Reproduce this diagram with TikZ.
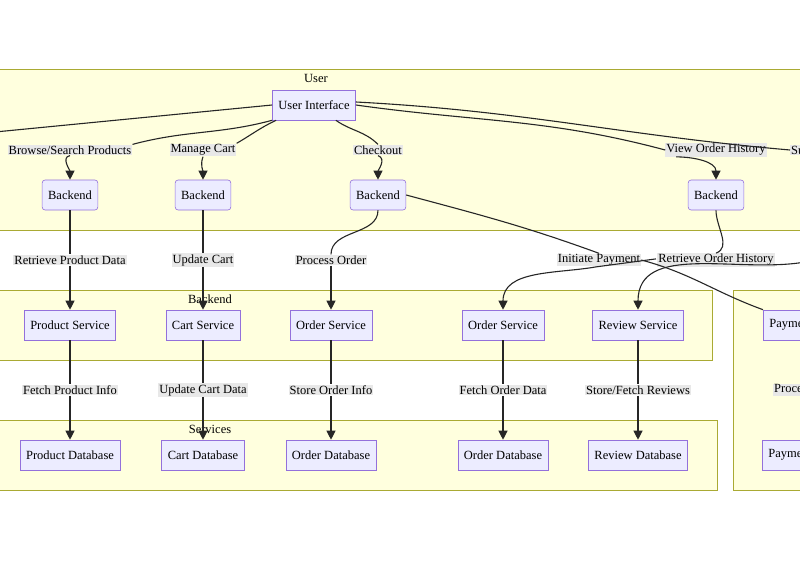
\documentclass[tikz,border=0pt]{standalone}
\usepackage{fontspec}
\setmainfont{Liberation Serif}
\usetikzlibrary{arrows.meta,positioning}
\definecolor{clfill}{HTML}{FFFFDE}
\definecolor{cldraw}{HTML}{AAAA33}
\definecolor{ndfill}{HTML}{ECECFF}
\definecolor{nddraw}{HTML}{9370DB}
\definecolor{lbfill}{HTML}{E8E8E8}
\tikzset{
  txt/.style={font=\fontsize{12.5}{14}\selectfont},
  box/.style={txt,draw=nddraw,fill=ndfill,line width=0.6pt,minimum height=30pt,inner xsep=6pt},
  rbox/.style={box,rounded corners=3pt},
  lbl/.style={txt,fill=lbfill,inner sep=1pt},
  clust/.style={draw=cldraw,fill=clfill,line width=0.6pt},
  edge/.style={line width=1.1pt,draw=black!85,-{Triangle[length=9pt,width=9pt]}},
  plain/.style={line width=1.1pt,draw=black!85}
}
\begin{document}
\begin{tikzpicture}[x=1pt,y=-1pt]
  \useasboundingbox (0,0) rectangle (800,575);
  \begin{scope}
    \clip (0,0) rectangle (800,575);
    % clusters
    \draw[clust] (-5,69) rectangle (805,230);
    \draw[clust] (-5,290) rectangle (712,360);
    \draw[clust] (-5,420) rectangle (717,490);
    \draw[clust] (733,290) rectangle (805,490);
    \node[txt] at (316,78) {User};
    \node[txt] at (210,299) {Backend};
    \node[txt] at (210,429) {Services};
    % nodes
    \node[box] (ui) at (314,105) {User Interface};
    \node[rbox] (be1) at (70,195) {Backend};
    \node[rbox] (be2) at (203,195) {Backend};
    \node[rbox] (be3) at (378,195) {Backend};
    \node[rbox] (be4) at (716,195) {Backend};
    \node[box] (ps) at (70,325) {Product Service};
    \node[box] (cs) at (203,325) {Cart Service};
    \node[box] (os1) at (331,325) {Order Service};
    \node[box] (os2) at (503,325) {Order Service};
    \node[box] (rs) at (638,325) {Review Service};
    \node[box,anchor=west] (pay) at (763,325) {Payment Service};
    \node[box] (pdb) at (70,455) {Product Database};
    \node[box] (cdb) at (203,455) {Cart Database};
    \node[box] (odb1) at (331,455) {Order Database};
    \node[box] (odb2) at (503,455) {Order Database};
    \node[box] (rdb) at (638,455) {Review Database};
    \node[box,anchor=west] (paydb) at (762,455) {Payment Database};
    \coordinate (offl) at (-5,132);
    \coordinate (offr2) at (805,262);
    % edges from the user interface
    \draw[plain] (ui.west) -- (offl);
    \node[lbl] (l1) at (70,150) {Browse/Search Products};
    \node[lbl] (l2) at (203,150) {Manage Cart};
    \node[lbl] (l3) at (378,150) {Checkout};
    \node[lbl] (l4) at (716,150) {View Order History};
    \node[lbl,anchor=west] (l5) at (790,150) {Submit Review};
    \draw[plain] (ui.south west) to[out=195,in=15] (l1.north east);
    \draw[edge] (l1.south) to[out=-170,in=90] (be1.north);
    \draw[plain] (ui.south west) ++(4,0) to[out=205,in=30] (l2.north east);
    \draw[edge] (l2.south) to[out=-110,in=90] (be2.north);
    \draw[plain] (ui.south east) ++(-20,0) to[out=-35,in=135] (l3.north);
    \draw[edge] (l3.south) to[out=-20,in=90] (be3.north);
    \draw[plain] (ui.east) to[out=-8,in=165] (l4.west);
    \draw[edge] (l4.south) ++(-40,0) to[out=0,in=90] (be4.north);
    \draw[plain] (ui.east) ++(0,-3) to[out=-3,in=175] (l5.west);
    % backend to services
    \node[lbl] (m1) at (70,260) {Retrieve Product Data};
    \node[lbl] (m2) at (203,260) {Update Cart};
    \node[lbl] (m3) at (331,260) {Process Order};
    \node[lbl] (m4) at (599,260) {Initiate Payment};
    \node[lbl] (m5) at (716,260) {Retrieve Order History};
    \draw[plain] (be1) -- (m1);
    \draw[edge] (m1) -- (ps);
    \draw[plain] (be2) -- (m2);
    \draw[edge] (m2) -- (cs);
    \draw[plain] (be3.south) to[out=-90,in=90] (m3.north);
    \draw[edge] (m3) -- (os1);
    \draw[plain] (be3.east) to[out=-15,in=160] (m4.north);
    \draw[plain] (m4.east) to[out=-15,in=160] (pay.north west);
    \draw[plain] (be4.south) to[out=-90,in=20] (m5.north);
    \draw[edge] (m5.south) ++(-120,0) to[out=190,in=90] (os2.north);
    \draw[plain] (m5.south) ++(-120,0) -- ++(60,-8);
    \draw[edge] (offr2) to[out=190,in=90] (rs.north);
    % services to databases
    \node[lbl] (n1) at (70,390) {Fetch Product Info};
    \node[lbl] (n2) at (203,390) {Update Cart Data};
    \node[lbl] (n3) at (331,390) {Store Order Info};
    \node[lbl] (n4) at (503,390) {Fetch Order Data};
    \node[lbl] (n5) at (638,390) {Store/Fetch Reviews};
    \node[lbl,anchor=west] (n6) at (773,390) {Process Payment};
    \draw[plain] (ps) -- (n1); \draw[edge] (n1) -- (pdb);
    \draw[plain] (cs) -- (n2); \draw[edge] (n2) -- (cdb);
    \draw[plain] (os1) -- (n3); \draw[edge] (n3) -- (odb1);
    \draw[plain] (os2) -- (n4); \draw[edge] (n4) -- (odb2);
    \draw[plain] (rs) -- (n5); \draw[edge] (n5) -- (rdb);
  \end{scope}
\end{tikzpicture}
\end{document}
